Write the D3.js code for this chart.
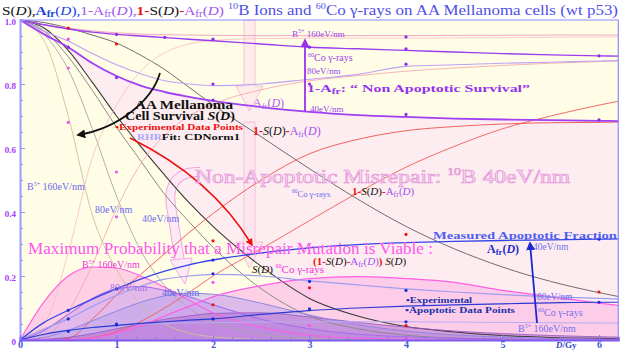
<!DOCTYPE html>
<html>
<head>
<meta charset="utf-8">
<script src="https://cdn.jsdelivr.net/npm/d3@7"></script>
<style>
  body { margin: 0; background: #fff; }
  svg { display: block; font-family: "Liberation Serif", "DejaVu Serif", serif; }
</style>
</head>
<body>
<svg id="chart" width="624" height="351"></svg>
<script>
// dose grid (Gy) shared by every fitted curve
const doses = [0, 0.25, 0.5, 0.75, 1, 1.25, 1.5, 1.75, 2, 2.5, 3, 3.5, 4, 4.5, 5, 5.5, 6, 6.2];

// survival S(D)
const sCo  = [1, .992, .975, .953, .928, .89, .845, .79, .735, .635, .535, .44, .355, .285, .228, .183, .148, .136];
const s40  = [1, .975, .905, .805, .70, .605, .515, .43, .355, .23, .13, .075, .042, .025, .014, .008, .005, .004];
const s40b = [1, .965, .885, .78, .665, .56, .455, .37, .29, .16, .075, .035, .015, .006, .003, .001, 0, 0];
const s80  = [1, .955, .845, .66, .45, .28, .17, .10, .058, .018, .005, .001, 0, 0, 0, 0, 0, 0];
const s160 = [1, .935, .70, .39, .22, .11, .05, .022, .01, .002, 0, 0, 0, 0, 0, 0, 0, 0];

// apoptotic fraction Afr(D)
const afr40  = [0, .055, .093, .128, .16, .19, .215, .235, .25, .272, .288, .298, .304, .308, .311, .313, .315, .316];
const afrCo  = [0, .018, .03, .039, .046, .052, .057, .062, .066, .08, .092, .10, .106, .11, .113, .116, .118, .118];
const afr80  = [0, .035, .066, .105, .14, .168, .19, .20, .205, .20, .185, .172, .16, .15, .142, .135, .13, .128];
const afr160 = [0, .015, .027, .038, .046, .05, .052, .053, .054, .056, .057, .057, .057, .056, .055, .054, .053, .053];

// non apoptotic survival 1-Afr(D)
const naf40  = [1, .955, .915, .865, .825, .795, .775, .76, .747, .728, .713, .703, .697, .692, .689, .687, .685, .684];
const nafCo  = [1, .985, .972, .962, .955, .95, .945, .94, .935, .925, .915, .91, .905, .90, .895, .891, .888, .887];
const naf80  = [1, .965, .934, .895, .86, .832, .81, .80, .795, .80, .815, .83, .855, .86, .865, .868, .872, .873];
const naf160 = [1, .985, .975, .966, .96, .956, .954, .953, .952, .951, .951, .951, .951, .952, .952, .953, .953, .953];

// misrepair 1-S(D)-Afr(D)
const mis40  = [0, 0, .005, .065, .14, .205, .27, .335, .395, .50, .582, .627, .654, .667, .675, .679, .68, .681];
const misCo  = [0, 0, 0, .008, .026, .058, .10, .148, .20, .285, .373, .46, .54, .605, .66, .70, .734, .746];
const mis80  = [0, .01, .09, .235, .41, .55, .64, .70, .737, .782, .81, .826, .84, .85, .858, .865, .87, .872];
const mis160 = [0, .05, .273, .57, .734, .84, .898, .925, .936, .942, .943, .943, .943, .944, .945, .946, .947, .947];

// viable misrepair (1-S-Afr) S
const via160 = [0, .12, .20, .228, .225, .20, .165, .125, .085, .04, .015, .006, .002, 0, 0, 0, 0, 0];
const via80  = [0, .03, .08, .13, .16, .167, .155, .135, .11, .065, .035, .018, .01, .005, .002, .001, 0, 0];
const via40  = [0, .008, .03, .06, .09, .118, .138, .146, .143, .115, .078, .048, .028, .016, .009, .005, .003, .002];
const via40b = [0, .002, .008, .02, .035, .05, .065, .075, .083, .085, .072, .055, .04, .028, .02, .014, .01, .009];
const viaCo  = [0, 0, .001, .006, .022, .045, .075, .105, .135, .17, .192, .198, .192, .18, .155, .135, .115, .108];

// experimental points [dose, value]
const survPts = [[0.5, .975], [1, .925], [4, .33], [6, .15], [2, .31], [3, .163], [4, .045], [2, .11]];
const lowLetPts = [[0.5, .85], [0.5, .68], [1, .525], [1, .385], [2, .18], [3, .045], [4, .006], [0.5, .94]];
const nafPts = [[0.5, .915], [1, .82], [2, .75], [4, .705], [6, .688], [1.5, .946], [2, .94], [3, .915],
                [4, .91], [6, .888], [1, .955], [2, .80], [4, .862], [4, .947], [3, .80]];
const afrPts = [[0.5, .093], [2, .25], [6, .315], [1, .047], [2, .066], [3, .097], [6, .118], [0.5, .066],
                [2, .207], [3, .183], [4, .155], [0.5, .027], [1, .05], [4, .057], [1, .16]];

const xTicks = [0, 1, 2, 3, 4, 5, 6];
const yTicks = [0, 0.2, 0.4, 0.6, 0.8, 1.0];

const svg = d3.select("#chart");
const x = d3.scaleLinear().domain([0, 6.2]).range([20, 618.3]);
const y = d3.scaleLinear().domain([0, 1]).range([340, 20]);

// arrow markers
const defs = svg.append("defs");
[["blk", "#111"], ["red", "#ee1111"], ["pur", "#9a30ee"], ["blu", "#1a2ad0"]].forEach(([id, c]) => {
    defs.append("marker").attr("id", id).attr("viewBox", "0 0 10 10")
        .attr("refX", 8).attr("refY", 5).attr("markerWidth", 5).attr("markerHeight", 5)
        .attr("orient", "auto").append("path").attr("d", "M0,0 L10,5 L0,10 z").attr("fill", c);
});

// plot background
svg.append("rect").attr("x", x(0)).attr("y", y(1))
    .attr("width", x(6.2) - x(0)).attr("height", y(0) - y(1)).attr("fill", "#fffde6");

const line = vals => d3.line().x((d, i) => x(doses[i])).y(d => y(d)).curve(d3.curveMonotoneX)(vals);
const band = (lo, hi) => d3.area().x((d, i) => x(doses[i]))
    .y0((d, i) => y(lo[i])).y1((d, i) => y(hi[i])).curve(d3.curveMonotoneX)(doses);

// misrepair region between survival and non apoptotic survival
svg.append("path").attr("d", band(s40, naf40)).attr("fill", "#fdedf0");

// filled viable-misrepair humps
const zeros = doses.map(() => 0);
[[viaCo, "#fcc0e6", 0.75], [via160, "#ffb0e2", 0.6], [via80, "#c8a2f0", 0.5],
 [via40, "#b4a0ee", 0.45], [via40b, "#b46cd2", 0.5]].forEach(([v, c, o]) => {
    svg.append("path").attr("d", band(zeros, v)).attr("fill", c).attr("fill-opacity", o);
});

// pale decorative arrows
const deco = svg.append("g").attr("fill", "#fde0ec").attr("fill-opacity", 0.55)
    .attr("stroke", "#f2b6cf").attr("stroke-width", 0.8);
deco.append("polygon").attr("points", "244,20 255,20 255,86 263,86 249.5,111 236,86 244,86");
deco.append("polygon").attr("points", "244,122 255,122 255,242 263,242 249.5,268 236,242 244,242");
svg.append("path").attr("d", "M200,172 C176,171 166,186 172,212 L180,262")
    .attr("fill", "none").attr("stroke", "#eea6dc").attr("stroke-width", 10);
svg.append("path").attr("d", "M200,172 C176,171 166,186 172,212 L180,262")
    .attr("fill", "none").attr("stroke", "#fdeaf5").attr("stroke-width", 8);
svg.append("polygon").attr("points", "170,260 192,258 185,284")
    .attr("fill", "#fdeaf5").attr("stroke", "#eea6dc").attr("stroke-width", 0.9);

// curves
const curves = [
    [s160, "#cbbf9a", 0.9], [s80, "#a8a8a8", 0.9], [s40b, "#8a8a8a", 1], [s40, "#3a3a3a", 1.1], [sCo, "#6e6e6e", 1],
    [mis160, "#f7bcc4", 0.8], [mis80, "#f4a2a6", 0.8], [misCo, "#f45a5a", 0.9], [mis40, "#ee5050", 0.9],
    [via40b, "#9a5cc4", 0.9], [via40, "#8f86e0", 1], [via80, "#a66aee", 1.1], [via160, "#ff5ee0", 1.1], [viaCo, "#ff5ee8", 1.3],
    [afr160, "#b6aef2", 1], [afr80, "#9c9cf0", 1.2], [afrCo, "#2a3ad2", 1.2], [afr40, "#3444e6", 1.3],
    [naf160, "#f2a6c4", 1], [naf80, "#c0a2f4", 1.1], [nafCo, "#9a3cf0", 1.4], [naf40, "#a040f2", 1.8]
];
curves.forEach(([v, c, w]) => {
    svg.append("path").attr("d", line(v)).attr("fill", "none").attr("stroke", c).attr("stroke-width", w);
});

// data points
const dots = (pts, c) => svg.append("g").selectAll("circle").data(pts).join("circle")
    .attr("cx", d => x(d[0])).attr("cy", d => y(d[1])).attr("r", 1.6).attr("fill", c);
dots(survPts, "#ee1111");
dots(lowLetPts, "#ee55ee");
dots(nafPts, "#8a2ae8");
dots(afrPts, "#1a2ad8");

// frame
svg.append("path").attr("d", `M${x(0)},${y(1)} H${x(6.2)} V${y(0)}`)
    .attr("fill", "none").attr("stroke", "#8c8cff").attr("stroke-width", 1.2);

// axes
const yAxis = svg.append("g").attr("transform", `translate(${x(0)},0)`)
    .call(d3.axisLeft(y).tickValues(d3.range(0, 1.001, 0.05)).tickSize(-3).tickFormat(""));
yAxis.select(".domain").attr("stroke", "#9c9cff").attr("stroke-width", 2);
yAxis.selectAll(".tick line").attr("stroke", "#9c9cff");
const yLab = svg.append("g").attr("transform", `translate(${x(0)},0)`)
    .call(d3.axisLeft(y).tickValues(yTicks).tickSize(-5).tickPadding(4)
        .tickFormat(d => d === 0 ? "0" : d3.format(".1f")(d)));
yLab.select(".domain").remove();
yLab.selectAll(".tick line").attr("stroke", "#9c9cff");
yLab.selectAll(".tick text").attr("fill", "#a63cff").attr("font-weight", "bold")
    .attr("font-size", 9).attr("font-family", "Liberation Serif, serif").attr("dy", "0.45em");

const xAxis = svg.append("g").attr("transform", `translate(0,${y(0)})`)
    .call(d3.axisBottom(x).tickValues(d3.range(0, 6.2, 0.2)).tickSize(-3).tickFormat(""));
xAxis.select(".domain").attr("stroke", "#7a5af0").attr("stroke-width", 2);
xAxis.selectAll(".tick line").attr("stroke", "#8a7af0");
const xLab = svg.append("g").attr("transform", `translate(0,${y(0)})`)
    .call(d3.axisBottom(x).tickValues(xTicks).tickSize(-5).tickPadding(1).tickFormat(d3.format("d")));
xLab.select(".domain").remove();
xLab.selectAll(".tick line").attr("stroke", "#8a7af0");
xLab.selectAll(".tick text").attr("fill", "#4455dd").attr("font-weight", "bold")
    .attr("font-size", 10).attr("font-family", "Liberation Serif, serif");

// rich text helper
function rich(xp, yp, size, parts, len) {
    const t = svg.append("text").attr("x", xp).attr("y", yp).attr("font-size", size);
    let shift = 0;
    parts.forEach(p => {
        const target = p.sup ? -size * 0.42 : p.sub ? size * 0.18 : 0;
        const ts = t.append("tspan").text(p.t).attr("dy", target - shift);
        shift = target;
        if (p.c) ts.attr("fill", p.c);
        if (p.i) ts.attr("font-style", "italic");
        if (p.b) ts.attr("font-weight", "bold");
        if (p.s) ts.attr("font-size", p.s);
    });
    if (len) t.attr("textLength", len).attr("lengthAdjust", "spacingAndGlyphs");
    return t;
}
const K = "#111", R = "#ee1111", P = "#a050f0", B = "#2040e0";
const afr = (c, size, bold) => [{ t: "A", c, b: bold }, { t: "fr", c, sub: true, s: size * 0.72, b: bold },
                                { t: "(", c }, { t: "D", c, i: true }, { t: ")", c }];

// titles
rich(2, 15, 13, [{ t: "S(", c: K }, { t: "D", c: K, i: true }, { t: "),", c: K },
    ...afr(B, 13, true), { t: ",", c: B },
    { t: "1-", c: P }, ...afr(P, 13), { t: ",", c: P },
    { t: "1-", c: R, b: true }, { t: "S(", c: K }, { t: "D", c: K, i: true }, { t: ")", c: K },
    { t: "-", c: R, b: true }, ...afr(P, 13)], 222);
rich(228, 15, 15, [{ t: "10", sup: true, s: 9 }, { t: "B Ions and " }, { t: "60", sup: true, s: 9 },
    { t: "Co γ-rays on AA Mellanoma cells (wt p53)" }], 390).attr("fill", "#5050e6");

// top labels
rich(292, 37, 9, [{ t: "B" }, { t: "5+", sup: true, s: 6 }, { t: " 160eV/nm" }]).attr("fill", "#9944ee");
rich(308, 61, 10, [{ t: "60", sup: true, s: 6 }, { t: "Co γ-rays" }]).attr("fill", "#9944ee");
rich(307, 74, 9, [{ t: "80eV/nm" }]).attr("fill", "#9944ee");
rich(307, 92, 11, [{ t: "1-A" }, { t: "fr", sub: true, s: 8 }, { t: ": “ Non Apoptotic Survival”" }], 223)
    .attr("fill", "#9433ee").attr("font-weight", "bold");
rich(310, 112, 9, [{ t: "40eV/nm" }]).attr("fill", "#9944ee");
rich(253, 107, 12, afr("#b060f4", 12));
svg.append("line").attr("x1", 305).attr("y1", 111).attr("x2", 305).attr("y2", 40)
    .attr("stroke", "#9a30ee").attr("stroke-width", 1.8).attr("marker-end", "url(#pur)");

// survival annotation
rich(135, 109, 12, [{ t: "AA Mellanoma" }], 98).attr("font-weight", "bold").attr("fill", K);
rich(125, 119.5, 12, [{ t: "Cell Survival " }, { t: "S", i: true }, { t: "(" }, { t: "D", i: true }, { t: ")" }], 110)
    .attr("font-weight", "bold").attr("fill", K);
rich(115, 130, 9, [{ t: "•Experimental Data Points" }], 128).attr("font-weight", "bold").attr("fill", R);
rich(137, 140, 9, [{ t: "RHR", c: "#a8a8ff", s: 8 }, { t: "Fit: CDNorm1", c: K }], 103).attr("font-weight", "bold");
svg.append("path").attr("d", "M160,73 C152,100 120,128 78,135").attr("fill", "none")
    .attr("stroke", "#111").attr("stroke-width", 1.8).attr("marker-end", "url(#blk)");
svg.append("path").attr("d", "M130,138 C185,165 225,200 252,245").attr("fill", "none")
    .attr("stroke", "#ee1111").attr("stroke-width", 1.5).attr("marker-end", "url(#red)");

const misParts = s => [{ t: "1-", c: R, b: true }, { t: "S", c: K, i: true }, { t: "(", c: K }, { t: "D", c: K, i: true },
    { t: ")", c: K }, { t: "-", c: R, b: true }, ...afr(P, s)];
rich(253, 135, 12, misParts(12));
rich(352, 195, 11, misParts(11));

rich(195, 183, 19, [{ t: "Non-Apoptotic Misrepair:   " }, { t: "10", sup: true, s: 11 }, { t: "B 40eV/nm" }], 375)
    .attr("fill", "#fadcef").attr("stroke", "#e497da").attr("stroke-width", 0.7);
rich(292, 197, 8.5, [{ t: "60", sup: true, s: 5.5 }, { t: "Co γ-rays" }]).attr("fill", "#6a6aee");

// left survival labels
rich(27, 190, 10, [{ t: "B" }, { t: "5+", sup: true, s: 6 }, { t: " 160eV/nm" }]).attr("fill", "#6a6aee");
rich(95, 213, 10, [{ t: "80eV/nm" }]).attr("fill", "#6a6aee");
rich(142, 222, 10, [{ t: "40eV/nm" }]).attr("fill", "#6a6aee");

// viable misrepair labels
rich(28, 254, 17, [{ t: "Maximum Probability   that a Misrepair Mutation is Viable :" }], 405).attr("fill", "#ff55ee");
rich(313, 265, 11, [{ t: "(1-", c: R, b: true }, { t: "S", c: K, i: true }, { t: "(", c: K }, { t: "D", c: K, i: true },
    { t: ")", c: K }, { t: "-", c: R, b: true }, ...afr(P, 11), { t: ")", c: R, b: true },
    { t: " S", c: K, i: true }, { t: "(", c: K }, { t: "D", c: K, i: true }, { t: ")", c: K }]);
rich(252, 273, 11, [{ t: "S", c: K, i: true }, { t: "(", c: K }, { t: "D", c: K, i: true }, { t: ") ", c: K },
    { t: "60", c: "#ee33dd", sup: true, s: 6 }, { t: "Co γ-rays", c: "#ee33dd" }]);
rich(82, 268, 10, [{ t: "B" }, { t: "5+", sup: true, s: 6 }, { t: " 160eV/nm" }]).attr("fill", "#ee33dd");
rich(110, 291, 10, [{ t: "80eV/nm" }]).attr("fill", "#9a72ee");
rich(162, 296, 10, [{ t: "40eV/nm" }]).attr("fill", "#5566ee");

// apoptotic fraction labels
rich(433, 239, 11, [{ t: "Measured Apoptotic Fraction" }], 184).attr("fill", "#4f5fee").attr("font-weight", "bold");
rich(487, 253, 12, afr("#1f2fcc", 12, true)).attr("font-weight", "bold");
rich(533, 250, 9.5, [{ t: "40eV/nm" }]).attr("fill", "#7070ee");
rich(537, 300, 9.5, [{ t: "80eV/nm" }]).attr("fill", "#7070ee");
rich(538, 316, 10, [{ t: "60", sup: true, s: 6 }, { t: "Co γ-rays" }]).attr("fill", "#7070ee");
rich(518, 332, 10, [{ t: "B" }, { t: "5+", sup: true, s: 6 }, { t: " 160eV/nm" }]).attr("fill", "#7070ee");
svg.append("line").attr("x1", 537).attr("y1", 323).attr("x2", 530).attr("y2", 243)
    .attr("stroke", "#1a2ad0").attr("stroke-width", 1.8).attr("marker-end", "url(#blu)");
rich(406, 303, 8, [{ t: "•Experimental" }], 66).attr("fill", "#2233aa").attr("font-weight", "bold");
rich(405, 313, 8, [{ t: "•Apoptotic Data Points" }], 110).attr("fill", "#2233aa").attr("font-weight", "bold");
rich(556, 348, 9, [{ t: "D", i: true }, { t: "/Gy" }]).attr("fill", "#3344cc").attr("font-weight", "bold");
</script>
</body>
</html>
